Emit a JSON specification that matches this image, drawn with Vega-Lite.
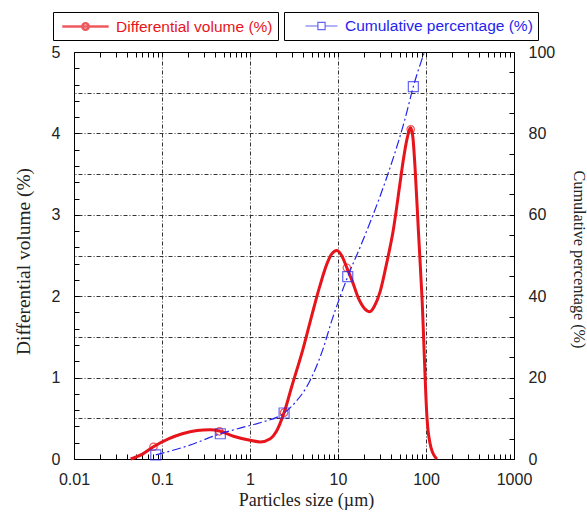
{
  "$schema": "https://vega.github.io/schema/vega-lite/v6.json",
  "width": 440,
  "height": 407,
  "autosize": {"type": "none"},
  "padding": {"left": 74, "top": 52, "right": 73, "bottom": 53},
  "background": "white",
  "config": {
    "view": {"stroke": null},
    "axis": {
      "domainColor": "#000",
      "domainWidth": 1,
      "tickColor": "#000",
      "tickWidth": 1,
      "labelFont": "Liberation Sans",
      "labelFontSize": 16,
      "labelColor": "#222",
      "titleFont": "Liberation Serif",
      "titleFontWeight": "normal",
      "titleColor": "#222",
      "gridColor": "#333",
      "gridDash": [4, 2, 1, 2],
      "gridWidth": 1,
      "labelOverlap": false,
      "labelFlush": false,
      "labelBound": false
    }
  },
  "datasets": {
    "diff_curve": [
      {"size_um": 0.044, "diff": 0, "series": "Differential volume (%)"},
      {"size_um": 0.06, "diff": 0.06, "series": "Differential volume (%)"},
      {"size_um": 0.08, "diff": 0.15, "series": "Differential volume (%)"},
      {"size_um": 0.12, "diff": 0.25, "series": "Differential volume (%)"},
      {"size_um": 0.17, "diff": 0.31, "series": "Differential volume (%)"},
      {"size_um": 0.25, "diff": 0.35, "series": "Differential volume (%)"},
      {"size_um": 0.35, "diff": 0.36, "series": "Differential volume (%)"},
      {"size_um": 0.45, "diff": 0.345, "series": "Differential volume (%)"},
      {"size_um": 0.65, "diff": 0.28, "series": "Differential volume (%)"},
      {"size_um": 1.0, "diff": 0.23, "series": "Differential volume (%)"},
      {"size_um": 1.3, "diff": 0.21, "series": "Differential volume (%)"},
      {"size_um": 1.7, "diff": 0.25, "series": "Differential volume (%)"},
      {"size_um": 2.0, "diff": 0.34, "series": "Differential volume (%)"},
      {"size_um": 2.44, "diff": 0.57, "series": "Differential volume (%)"},
      {"size_um": 3.0, "diff": 0.9, "series": "Differential volume (%)"},
      {"size_um": 4.0, "diff": 1.35, "series": "Differential volume (%)"},
      {"size_um": 5.0, "diff": 1.75, "series": "Differential volume (%)"},
      {"size_um": 6.2, "diff": 2.12, "series": "Differential volume (%)"},
      {"size_um": 7.5, "diff": 2.4, "series": "Differential volume (%)"},
      {"size_um": 8.5, "diff": 2.52, "series": "Differential volume (%)"},
      {"size_um": 9.7, "diff": 2.56, "series": "Differential volume (%)"},
      {"size_um": 11, "diff": 2.5, "series": "Differential volume (%)"},
      {"size_um": 12.6, "diff": 2.35, "series": "Differential volume (%)"},
      {"size_um": 14.7, "diff": 2.17, "series": "Differential volume (%)"},
      {"size_um": 17, "diff": 1.98, "series": "Differential volume (%)"},
      {"size_um": 20, "diff": 1.85, "series": "Differential volume (%)"},
      {"size_um": 23, "diff": 1.81, "series": "Differential volume (%)"},
      {"size_um": 26, "diff": 1.88, "series": "Differential volume (%)"},
      {"size_um": 30, "diff": 2.05, "series": "Differential volume (%)"},
      {"size_um": 35, "diff": 2.36, "series": "Differential volume (%)"},
      {"size_um": 39, "diff": 2.6, "series": "Differential volume (%)"},
      {"size_um": 42, "diff": 2.78, "series": "Differential volume (%)"},
      {"size_um": 50.7, "diff": 3.39, "series": "Differential volume (%)"},
      {"size_um": 55, "diff": 3.66, "series": "Differential volume (%)"},
      {"size_um": 60.8, "diff": 3.93, "series": "Differential volume (%)"},
      {"size_um": 67, "diff": 4.07, "series": "Differential volume (%)"},
      {"size_um": 71, "diff": 3.95, "series": "Differential volume (%)"},
      {"size_um": 75, "diff": 3.59, "series": "Differential volume (%)"},
      {"size_um": 82, "diff": 2.8, "series": "Differential volume (%)"},
      {"size_um": 90, "diff": 1.99, "series": "Differential volume (%)"},
      {"size_um": 103, "diff": 0.48, "series": "Differential volume (%)"},
      {"size_um": 114, "diff": 0.14, "series": "Differential volume (%)"},
      {"size_um": 133, "diff": 0, "series": "Differential volume (%)"}
    ],
    "diff_points": [
      {"size_um": 0.08, "diff": 0.15, "series": "Differential volume (%)"},
      {"size_um": 0.45, "diff": 0.34, "series": "Differential volume (%)"},
      {"size_um": 2.44, "diff": 0.57, "series": "Differential volume (%)"},
      {"size_um": 12.6, "diff": 2.35, "series": "Differential volume (%)"},
      {"size_um": 67, "diff": 4.05, "series": "Differential volume (%)"}
    ],
    "cum_curve": [
      {"size_um": 0.085, "cum": 1, "series": "Cumulative percentage (%)"},
      {"size_um": 0.2, "cum": 3.3, "series": "Cumulative percentage (%)"},
      {"size_um": 0.46, "cum": 6.2, "series": "Cumulative percentage (%)"},
      {"size_um": 0.77, "cum": 7.6, "series": "Cumulative percentage (%)"},
      {"size_um": 1.3, "cum": 8.9, "series": "Cumulative percentage (%)"},
      {"size_um": 2.44, "cum": 11.3, "series": "Cumulative percentage (%)"},
      {"size_um": 3.3, "cum": 14, "series": "Cumulative percentage (%)"},
      {"size_um": 4.4, "cum": 17.7, "series": "Cumulative percentage (%)"},
      {"size_um": 5.5, "cum": 22, "series": "Cumulative percentage (%)"},
      {"size_um": 6.7, "cum": 26.8, "series": "Cumulative percentage (%)"},
      {"size_um": 8.5, "cum": 34, "series": "Cumulative percentage (%)"},
      {"size_um": 12.9, "cum": 44.8, "series": "Cumulative percentage (%)"},
      {"size_um": 18.6, "cum": 53, "series": "Cumulative percentage (%)"},
      {"size_um": 30, "cum": 64.5, "series": "Cumulative percentage (%)"},
      {"size_um": 42.5, "cum": 74, "series": "Cumulative percentage (%)"},
      {"size_um": 57.7, "cum": 83.5, "series": "Cumulative percentage (%)"},
      {"size_um": 71.8, "cum": 91.5, "series": "Cumulative percentage (%)"},
      {"size_um": 96, "cum": 100, "series": "Cumulative percentage (%)"}
    ],
    "cum_points": [
      {"size_um": 0.085, "cum": 1, "series": "Cumulative percentage (%)"},
      {"size_um": 0.46, "cum": 6.2, "series": "Cumulative percentage (%)"},
      {"size_um": 2.44, "cum": 11.3, "series": "Cumulative percentage (%)"},
      {"size_um": 12.9, "cum": 44.8, "series": "Cumulative percentage (%)"},
      {"size_um": 71.8, "cum": 91.5, "series": "Cumulative percentage (%)"}
    ]
  },
  "layer": [
    {
      "encoding": {
        "x": {
          "field": "size_um",
          "type": "quantitative",
          "scale": {"type": "log", "domain": [0.01, 1000], "nice": false},
          "axis": {
            "orient": "bottom",
            "title": "Particles size (µm)",
            "titleFontSize": 18,
            "titleX": 232,
            "titleY": 46,
            "titleBaseline": "alphabetic",
            "values": [0.01, 0.02, 0.03, 0.04, 0.05, 0.06, 0.07, 0.08, 0.09, 0.1, 0.2, 0.3, 0.4, 0.5, 0.6, 0.7, 0.8, 0.9, 1, 2, 3, 4, 5, 6, 7, 8, 9, 10, 20, 30, 40, 50, 60, 70, 80, 90, 100, 200, 300, 400, 500, 600, 700, 800, 900, 1000],
            "labelExpr": "indexof([0.01, 0.1, 1, 10, 100, 1000], datum.value) >= 0 ? datum.value + '' : ''",
            "tickSize": -5,
            "labelPadding": 17,
            "grid": true,
            "gridOpacity": {"condition": {"test": "indexof([0.1, 1, 10, 100], datum.value) >= 0", "value": 1}, "value": 0}
          }
        },
        "y": {
          "field": "diff",
          "type": "quantitative",
          "scale": {"domain": [0, 5], "nice": false},
          "axis": {
            "orient": "left",
            "title": "Differential volume (%)",
            "titleFontSize": 19.4,
            "titleAngle": -90,
            "titleX": -51,
            "titleY": 209,
            "titleAlign": "center",
            "titleBaseline": "middle",
            "values": [0, 0.2, 0.4, 0.6, 0.8, 1, 1.2, 1.4, 1.6, 1.8, 2, 2.2, 2.4, 2.6, 2.8, 3, 3.2, 3.4, 3.6, 3.8, 4, 4.2, 4.4, 4.6, 4.8, 5],
            "labelExpr": "indexof([0, 1, 2, 3, 4, 5], datum.value) >= 0 ? datum.value + '' : ''",
            "labelOverlap": false,
            "tickSize": -5,
            "labelPadding": 19,
            "grid": false
          }
        },
        "color": {
          "field": "series",
          "type": "nominal",
          "scale": {"domain": ["Differential volume (%)"], "range": ["#e8141b"]},
          "legend": {
            "orient": "none",
            "legendX": -21,
            "legendY": -40,
            "title": null,
            "strokeColor": "#000",
            "fillColor": "#fff",
            "padding": 5,
            "labelFont": "Liberation Sans",
            "labelFontSize": 15.5,
            "labelColor": "#e8141b",
            "labelLimit": 400,
            "symbolType": "M-2.9,0L2.9,0M0.4,0A0.4,0.4 0 1,1 -0.4,0A0.4,0.4 0 1,1 0.4,0",
            "symbolSize": 256,
            "symbolStrokeWidth": 2.5,
            "symbolFillColor": "transparent",
            "symbolOffset": 18,
            "labelOffset": 21
          }
        }
      },
      "layer": [
        {"data": {"name": "diff_curve"}, "mark": {"type": "line", "interpolate": "monotone", "strokeWidth": 3}},
        {"data": {"name": "diff_points"}, "mark": {"type": "point", "shape": "circle", "filled": false, "size": 55, "strokeWidth": 1.2}}
      ]
    },
    {
      "encoding": {
        "x": {
          "field": "size_um",
          "type": "quantitative",
          "scale": {"type": "log", "domain": [0.01, 1000], "nice": false},
          "axis": {
            "orient": "top",
            "title": null,
            "labels": false,
            "values": [0.01, 0.02, 0.03, 0.04, 0.05, 0.06, 0.07, 0.08, 0.09, 0.1, 0.2, 0.3, 0.4, 0.5, 0.6, 0.7, 0.8, 0.9, 1, 2, 3, 4, 5, 6, 7, 8, 9, 10, 20, 30, 40, 50, 60, 70, 80, 90, 100, 200, 300, 400, 500, 600, 700, 800, 900, 1000],
            "tickSize": -5,
            "grid": false
          }
        },
        "y": {
          "field": "cum",
          "type": "quantitative",
          "scale": {"domain": [0, 100], "nice": false},
          "axis": {
            "orient": "right",
            "title": "Cumulative percentage (%)",
            "titleFontSize": 16.2,
            "titleAngle": 90,
            "titleX": 64,
            "titleY": 207,
            "titleAlign": "center",
            "titleBaseline": "middle",
            "values": [0, 5, 10, 15, 20, 25, 30, 35, 40, 45, 50, 55, 60, 65, 70, 75, 80, 85, 90, 95, 100],
            "labelExpr": "datum.value % 20 == 0 ? datum.label : ''",
            "tickSize": -5,
            "labelPadding": 19,
            "grid": true,
            "gridOpacity": {"condition": {"test": "datum.value % 10 == 0", "value": 1}, "value": 0}
          }
        },
        "color": {
          "field": "series",
          "type": "nominal",
          "scale": {"domain": ["Cumulative percentage (%)"], "range": ["#2424ee"]},
          "legend": {
            "orient": "none",
            "legendX": 210,
            "legendY": -40,
            "title": null,
            "strokeColor": "#000",
            "fillColor": "#fff",
            "padding": 5,
            "labelFont": "Liberation Sans",
            "labelFontSize": 15.5,
            "labelColor": "#2424ee",
            "labelLimit": 400,
            "symbolType": "M-2,0L-0.45,0M0.45,0L2,0M-0.45,-0.45L0.45,-0.45L0.45,0.45L-0.45,0.45Z",
            "symbolSize": 256,
            "symbolStrokeWidth": 1.2,
            "symbolFillColor": "transparent",
            "symbolOffset": 23.5,
            "labelOffset": 14.5
          }
        }
      },
      "layer": [
        {"data": {"name": "cum_curve"}, "mark": {"type": "line", "interpolate": "monotone", "strokeWidth": 1.2, "strokeDash": [9, 3, 2, 3]}},
        {"data": {"name": "cum_points"}, "mark": {"type": "point", "shape": "square", "filled": false, "size": 100, "strokeWidth": 1.2}}
      ]
    }
  ],
  "resolve": {
    "scale": {"y": "independent", "color": "independent"},
    "axis": {"x": "independent"}
  }
}
